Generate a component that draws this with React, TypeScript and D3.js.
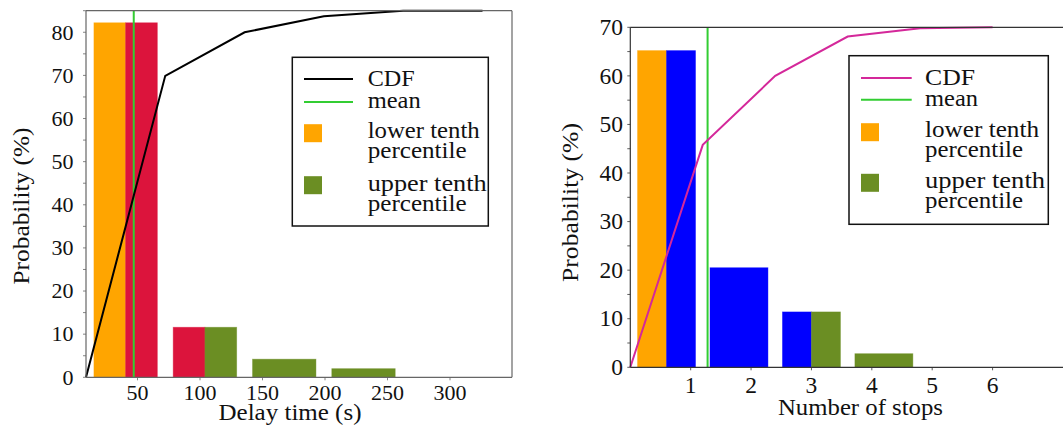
import * as React from 'react';
import * as d3 from 'd3';

// left panel: delay time histogram
const delayEdges = [8.8, 72.2, 135.7, 199.1, 262.5, 326];
const delayProb = [82.2, 11.6, 4.2, 2.0, 0];
const delayCdf = [0, 69.9, 80, 83.7, 85, 85];
const delayHalves = [['lower', 'middle'], ['middle', 'upper'], ['upper', 'upper'], ['upper', 'upper'], ['upper', 'upper']];
const delayTicks = [50, 100, 150, 200, 250, 300];
const delayYTicks = [0, 10, 20, 30, 40, 50, 60, 70, 80];
const delayMean = 47;

// right panel: number of stops histogram
const stopsEdges = [0, 1.2, 2.4, 3.6, 4.8, 6.0];
const stopsProb = [65.2, 20.5, 11.4, 2.8, 0];
const stopsCdf = [0, 45.8, 60, 68.1, 69.8, 70];
const stopsHalves = [['lower', 'middle'], ['middle', 'middle'], ['middle', 'upper'], ['upper', 'upper'], ['upper', 'upper']];
const stopsTicks = [1, 2, 3, 4, 5, 6];
const stopsYTicks = [0, 10, 20, 30, 40, 50, 60, 70];
const stopsMean = 1.28;

const legendLabels = ['CDF', 'mean', 'lower tenth', 'percentile', 'upper tenth', 'percentile'];

type Panel = {
  edges: number[];
  prob: number[];
  cdf: number[];
  halves: string[][];
  xTicks: number[];
  yTicks: number[];
  mean: number;
  xDomain: [number, number];
  xRange: [number, number];
  yMax: number;
  yRange: [number, number];
  middleColor: string;
  cdfColor: string;
  frameColor: string;
  xTitle: string;
  xTitleX: number;
  xTitleY: number;
  xTitleLen: number;
  yTitleX: number;
  yTitleY: number;
  yTitleLen: number;
  tickFont: number;
  tickLabelRight: number;
  xTickBaseline: number;
  legend: { x0: number; x1: number; y0: number; y1: number; lineX0: number; lineX1: number; textX: number; rows: number[]; lens: number[] };
  fullFrame: boolean;
};

function HistPanel({ p }: { p: Panel }) {
  const x = d3.scaleLinear().domain(p.xDomain).range(p.xRange);
  const y = d3.scaleLinear().domain([0, p.yMax]).range(p.yRange);
  const colors: Record<string, string> = { lower: '#FFA500', middle: p.middleColor, upper: '#6B8E23' };
  const [top, bottom] = [p.yRange[1], p.yRange[0]];
  const left = p.xRange[0];
  const right = p.xRange[1];
  const minor = d3.range(0, p.yMax + 0.01, 5);
  const line = d3.line<number>().x((_, i) => x(p.edges[i])).y(d => y(d));

  const bars: React.ReactNode[] = [];
  p.prob.forEach((v, i) => {
    if (v <= 0) return;
    const w = (p.edges[i + 1] - p.edges[i]) * 0.8;
    const c = (p.edges[i] + p.edges[i + 1]) / 2;
    const [a, b] = p.halves[i];
    const segs = a === b ? [[c - w / 2, c + w / 2, a]] : [[c - w / 2, c, a], [c, c + w / 2, b]];
    segs.forEach(([s, e, k], j) => {
      bars.push(
        <rect key={`${i}-${j}`} x={x(s as number)} y={y(v)} width={x(e as number) - x(s as number)} height={y(0) - y(v)}
          fill={colors[k as string]} stroke={colors[k as string]} strokeOpacity={0.5} strokeWidth={0.8} />
      );
    });
  });

  const lg = p.legend;
  return (
    <g>
      {bars}
      <line x1={x(p.mean)} x2={x(p.mean)} y1={top} y2={bottom} stroke="#32CD32" strokeWidth={2} />
      <path d={line(p.cdf) || ''} fill="none" stroke={p.cdfColor} strokeWidth={2} />
      {/* frame */}
      <line x1={left} x2={left} y1={top} y2={bottom} stroke={p.frameColor} strokeWidth={1.2} />
      <line x1={left} x2={right} y1={bottom} y2={bottom} stroke={p.frameColor} strokeWidth={1.2} />
      <line x1={left} x2={right} y1={top} y2={top} stroke={p.frameColor} strokeWidth={1.2} />
      {p.fullFrame && <line x1={right} x2={right} y1={top} y2={bottom} stroke={p.frameColor} strokeWidth={1.2} />}
      {minor.map(t => (
        <line key={`m${t}`} x1={left - 3} x2={left} y1={y(t)} y2={y(t)} stroke={p.frameColor} strokeWidth={0.8} />
      ))}
      {p.yTicks.map(t => (
        <text key={`y${t}`} x={p.tickLabelRight} y={y(t) + p.tickFont * 0.33} fontSize={p.tickFont}
          fontFamily="Liberation Serif" textAnchor="end" fill="#111">{String(t)}</text>
      ))}
      {p.xTicks.map(t => (
        <g key={`x${t}`}>
          <line x1={x(t)} x2={x(t)} y1={bottom} y2={bottom + 3} stroke={p.frameColor} strokeWidth={0.8} />
          <text x={x(t)} y={p.xTickBaseline} fontSize={p.tickFont} fontFamily="Liberation Serif"
            textAnchor="middle" fill="#111">{String(t)}</text>
        </g>
      ))}
      <text x={p.xTitleX} y={p.xTitleY} fontSize={23} fontFamily="Liberation Serif" textAnchor="middle" fill="#111"
        textLength={p.xTitleLen} lengthAdjust="spacingAndGlyphs">{p.xTitle}</text>
      <text x={0} y={0} fontSize={23} fontFamily="Liberation Serif" textAnchor="middle" fill="#111"
        textLength={p.yTitleLen} lengthAdjust="spacingAndGlyphs"
        transform={`translate(${p.yTitleX},${p.yTitleY}) rotate(-90)`}>Probability (%)</text>
      {/* legend */}
      <rect x={lg.x0} y={lg.y0} width={lg.x1 - lg.x0} height={lg.y1 - lg.y0} fill="#fff" stroke="#111" strokeWidth={1.5} />
      <line x1={lg.lineX0} x2={lg.lineX1} y1={lg.rows[0] - 7} y2={lg.rows[0] - 7} stroke={p.cdfColor} strokeWidth={2} />
      <line x1={lg.lineX0} x2={lg.lineX1} y1={lg.rows[1] - 6} y2={lg.rows[1] - 6} stroke="#32CD32" strokeWidth={2} />
      <rect x={lg.lineX0} y={lg.rows[2] - 13.5} width={18} height={18} fill="#FFA500" />
      <rect x={lg.lineX0} y={lg.rows[4] - 14.5} width={18} height={18} fill="#6B8E23" />
      {legendLabels.map((l, i) => (
        <text key={`l${i}`} x={lg.textX} y={lg.rows[i]} fontSize={23} fontFamily="Liberation Serif" fill="#111"
          textLength={lg.lens[i]} lengthAdjust="spacingAndGlyphs">{l}</text>
      ))}
    </g>
  );
}

const leftPanel: Panel = {
  edges: delayEdges, prob: delayProb, cdf: delayCdf, halves: delayHalves,
  xTicks: delayTicks, yTicks: delayYTicks, mean: delayMean,
  xDomain: [8.8, 349.6], xRange: [86, 512], yMax: 85, yRange: [377.3, 10.7],
  middleColor: '#DC143C', cdfColor: '#000', frameColor: '#666',
  xTitle: 'Delay time (s)', xTitleX: 290, xTitleY: 420, xTitleLen: 143,
  yTitleX: 29, yTitleY: 206, yTitleLen: 157,
  tickFont: 22, tickLabelRight: 73.5, xTickBaseline: 400,
  legend: { x0: 292.3, x1: 488.3, y0: 57.3, y1: 226, lineX0: 304, lineX1: 353, textX: 367.7,
    rows: [86, 108, 137.7, 158, 190.7, 210.7], lens: [47, 53, 112, 99, 119, 99] },
  fullFrame: true,
};

const rightPanel: Panel = {
  edges: stopsEdges, prob: stopsProb, cdf: stopsCdf, halves: stopsHalves,
  xTicks: stopsTicks, yTicks: stopsYTicks, mean: stopsMean,
  xDomain: [0, 7.63], xRange: [630.3, 1091], yMax: 70, yRange: [367.3, 27.3],
  middleColor: '#0000FF', cdfColor: '#D4289A', frameColor: '#333',
  xTitle: 'Number of stops', xTitleX: 860.5, xTitleY: 415, xTitleLen: 165,
  yTitleX: 578, yTitleY: 202.5, yTitleLen: 159,
  tickFont: 23.5, tickLabelRight: 623, xTickBaseline: 393,
  legend: { x0: 849, x1: 1048.3, y0: 55.7, y1: 224.3, lineX0: 861, lineX1: 911.7, textX: 925,
    rows: [85, 105.7, 136.7, 157.3, 188.3, 208.3], lens: [50, 53, 114, 98, 120, 98] },
  fullFrame: false,
};

export default function App() {
  return (
    <svg width={1063} height={428} fontFamily="Liberation Serif"
      style={{ position: 'absolute', left: 0, top: 0, background: '#fff', overflow: 'hidden' }}>
      <rect x={0} y={0} width={1063} height={428} fill="#fff" />
      <HistPanel p={leftPanel} />
      <HistPanel p={rightPanel} />
    </svg>
  );
}
